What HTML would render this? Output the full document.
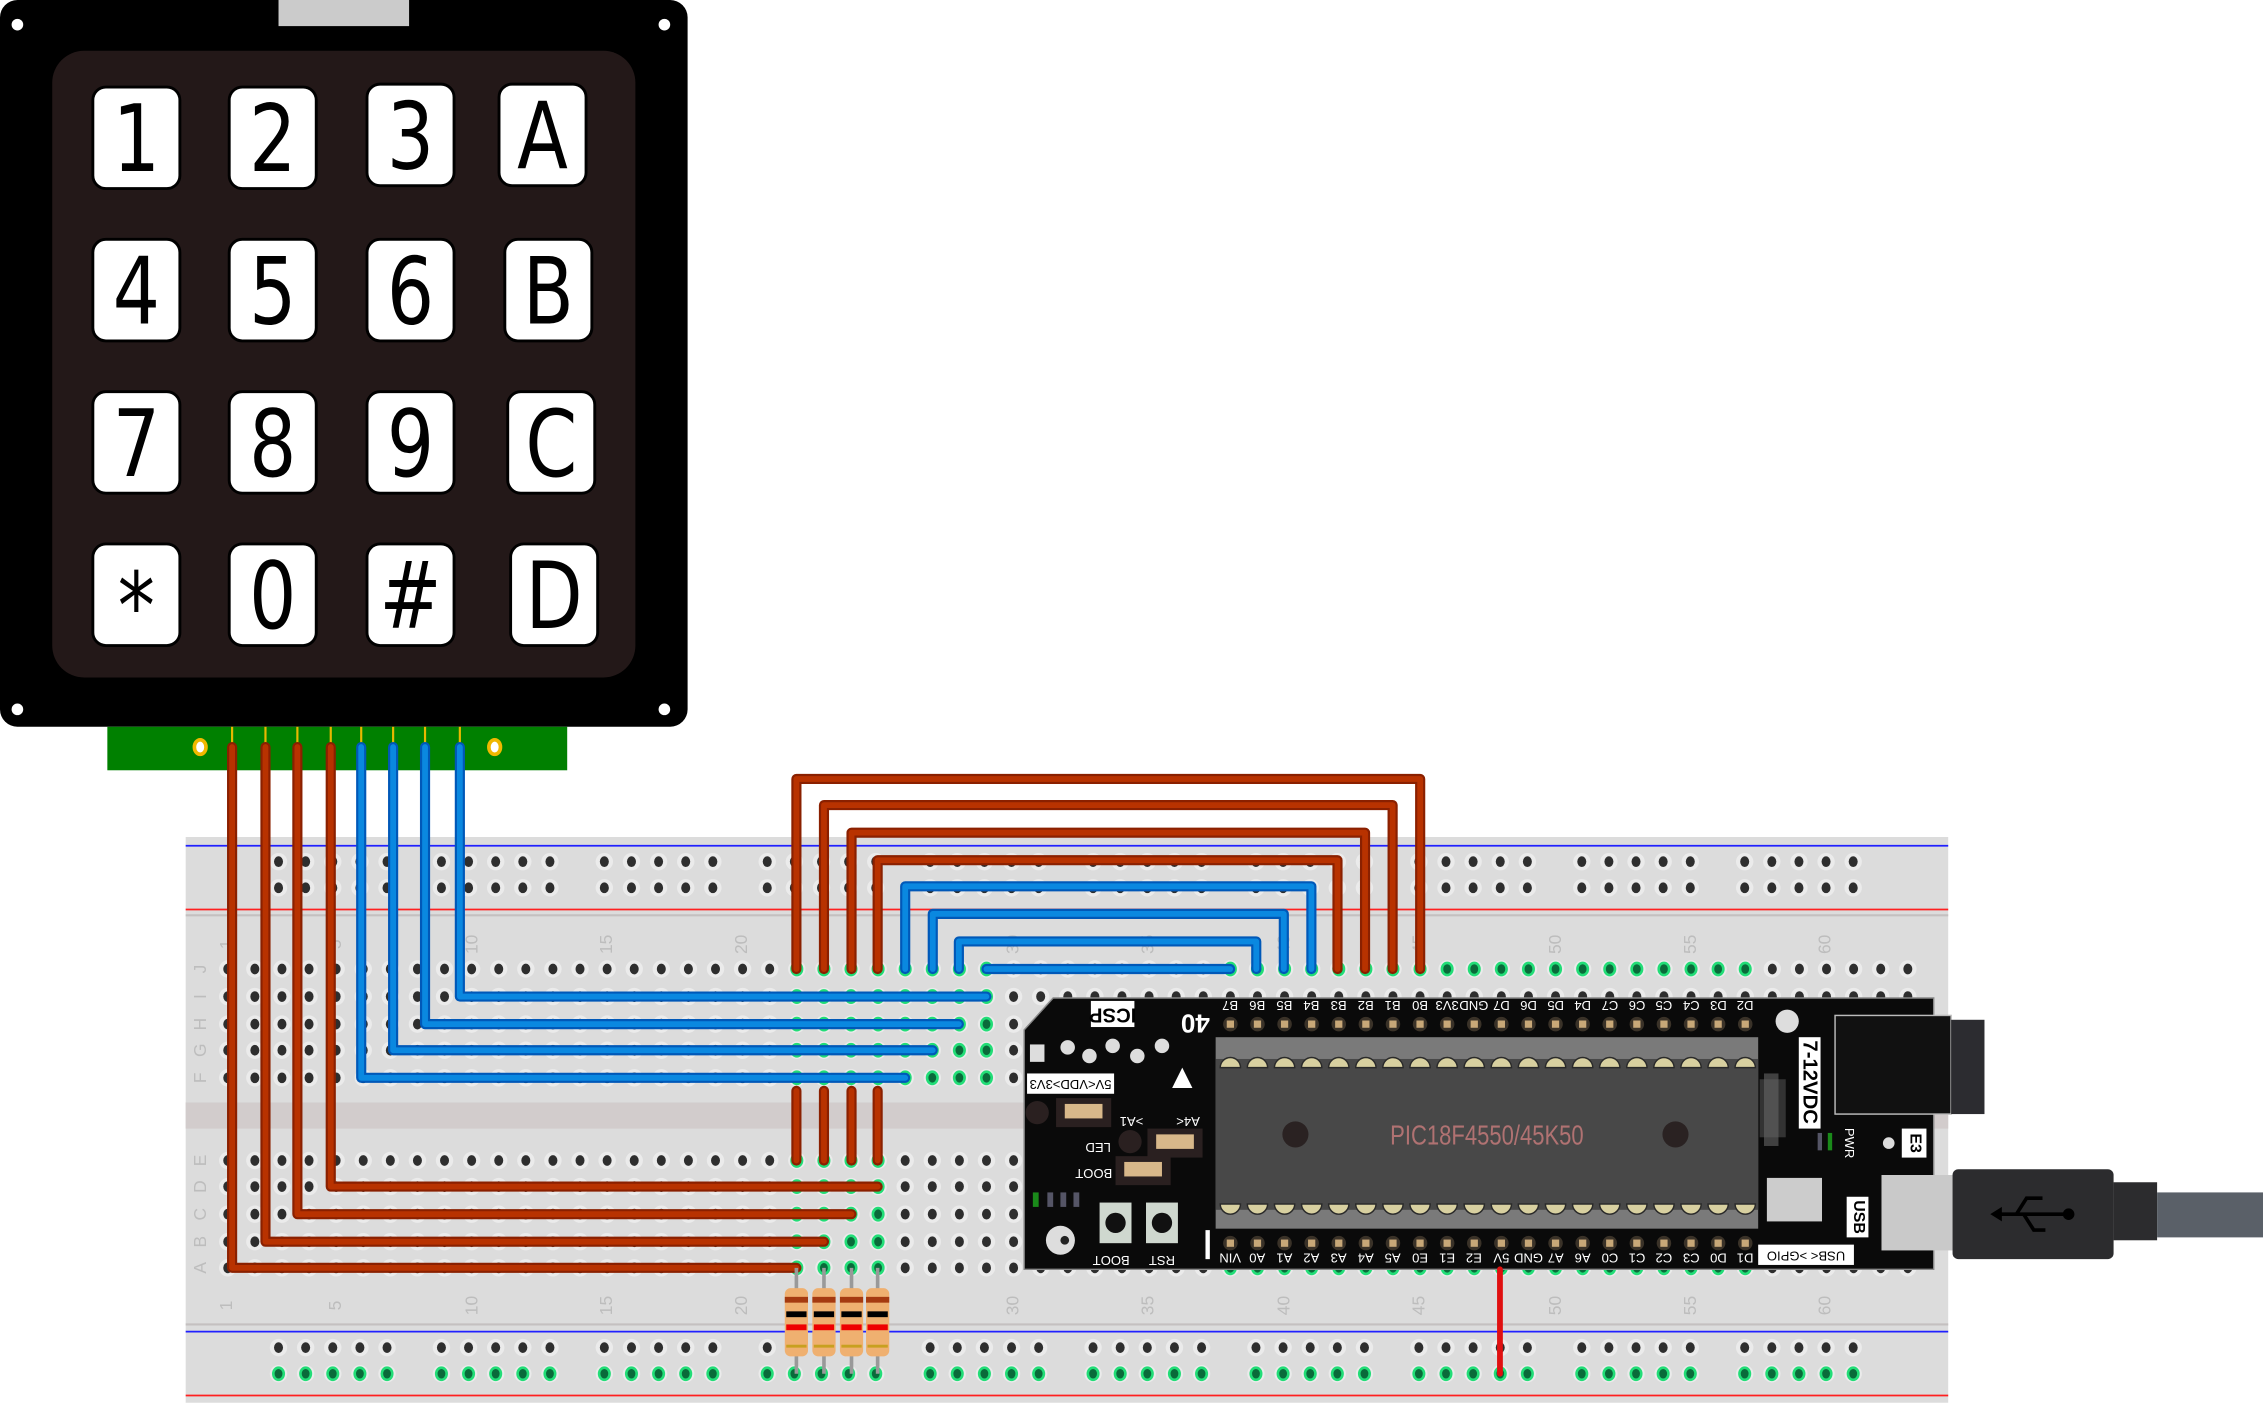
<!DOCTYPE html>
<html><head><meta charset="utf-8">
<style>
html,body{margin:0;padding:0;background:#fff;}
svg{display:block;}
.k{font-family:"DejaVu Sans","Liberation Sans",sans-serif;font-size:64px;fill:#000;text-anchor:middle;}
.pl{font-family:"Liberation Sans",sans-serif;font-size:9px;fill:#fff;text-anchor:middle;}
.nl{font-family:"Liberation Sans",sans-serif;font-size:12px;fill:#bdbdbd;text-anchor:middle;}
.wl{font-family:"Liberation Sans",sans-serif;font-weight:bold;fill:#fff;text-anchor:middle;}
</style></head>
<body>
<svg width="2263" height="1410" viewBox="0 0 1560 972" preserveAspectRatio="none" xmlns="http://www.w3.org/2000/svg">
<!-- Keypad -->
<rect x="0" y="0" width="474" height="501" rx="12" fill="#000"/>
<rect x="192" y="0" width="90" height="18" fill="#cbcbcb"/>
<circle cx="12" cy="17" r="4" fill="#fff"/><circle cx="458" cy="17" r="4" fill="#fff"/>
<circle cx="12" cy="489" r="4" fill="#fff"/><circle cx="458" cy="489" r="4" fill="#fff"/>
<rect x="36" y="35" width="402" height="432" rx="22" fill="#231818"/>
<g fill="#fff" stroke="#000" stroke-width="2">
<rect x="64" y="60" width="60" height="70" rx="9"/><rect x="158" y="60" width="60" height="70" rx="9"/><rect x="253" y="58" width="60" height="70" rx="9"/><rect x="344" y="58" width="60" height="70" rx="9"/>
<rect x="64" y="165" width="60" height="70" rx="9"/><rect x="158" y="165" width="60" height="70" rx="9"/><rect x="253" y="165" width="60" height="70" rx="9"/><rect x="348" y="165" width="60" height="70" rx="9"/>
<rect x="64" y="270" width="60" height="70" rx="9"/><rect x="158" y="270" width="60" height="70" rx="9"/><rect x="253" y="270" width="60" height="70" rx="9"/><rect x="350" y="270" width="60" height="70" rx="9"/>
<rect x="64" y="375" width="60" height="70" rx="9"/><rect x="158" y="375" width="60" height="70" rx="9"/><rect x="253" y="375" width="60" height="70" rx="9"/><rect x="352" y="375" width="60" height="70" rx="9"/>
</g>
<g class="k">
<text transform="translate(94,118) scale(0.8,1)">1</text>
<text transform="translate(188,118) scale(0.8,1)">2</text>
<text transform="translate(283,116) scale(0.8,1)">3</text>
<text transform="translate(374,116) scale(0.8,1)">A</text>
<text transform="translate(94,223) scale(0.8,1)">4</text>
<text transform="translate(188,223) scale(0.8,1)">5</text>
<text transform="translate(283,223) scale(0.8,1)">6</text>
<text transform="translate(378,223) scale(0.8,1)">B</text>
<text transform="translate(94,328) scale(0.8,1)">7</text>
<text transform="translate(188,328) scale(0.8,1)">8</text>
<text transform="translate(283,328) scale(0.8,1)">9</text>
<text transform="translate(380,328) scale(0.8,1)">C</text>
<text transform="translate(94,440) scale(0.8,1)">*</text>
<text transform="translate(188,433) scale(0.8,1)">0</text>
<text transform="translate(283,433) scale(0.8,1)">#</text>
<text transform="translate(382,433) scale(0.8,1)">D</text>
</g>
<!-- connector pcb -->
<rect x="74" y="501" width="317" height="30" fill="#008000"/>
<g stroke="#e8b800" stroke-width="1.5">
<line x1="160" y1="501" x2="160" y2="512"/><line x1="183" y1="501" x2="183" y2="512"/><line x1="205" y1="501" x2="205" y2="512"/><line x1="228" y1="501" x2="228" y2="512"/>
<line x1="249" y1="501" x2="249" y2="512"/><line x1="271" y1="501" x2="271" y2="512"/><line x1="293" y1="501" x2="293" y2="512"/><line x1="317" y1="501" x2="317" y2="512"/>
</g>
<ellipse cx="138" cy="515" rx="4" ry="5" fill="#fff" stroke="#f0b800" stroke-width="2.5"/>
<ellipse cx="341" cy="515" rx="4" ry="5" fill="#fff" stroke="#f0b800" stroke-width="2.5"/>

<!-- breadboard -->
<rect x="128" y="577" width="1215" height="390" fill="#dcdcdc"/>
<line x1="128" y1="583" x2="1343" y2="583" stroke="#2020ff" stroke-width="1.2"/>
<line x1="128" y1="627" x2="1343" y2="627" stroke="#ff2020" stroke-width="1.2"/>
<line x1="128" y1="631" x2="1343" y2="631" stroke="#c4c0c0" stroke-width="1.5"/>
<rect x="128" y="760" width="1215" height="18" fill="#d2cccc"/>
<line x1="128" y1="913" x2="1343" y2="913" stroke="#c4c0c0" stroke-width="1.5"/>
<line x1="128" y1="918" x2="1343" y2="918" stroke="#2020ff" stroke-width="1.2"/>
<line x1="128" y1="962" x2="1343" y2="962" stroke="#ff2020" stroke-width="1.2"/>
<g id="holes"></g>
<g class="nl">
<text transform="translate(160,651) rotate(-90)">1</text>
<text transform="translate(235,651) rotate(-90)">5</text>
<text transform="translate(329,651) rotate(-90)">10</text>
<text transform="translate(422,651) rotate(-90)">15</text>
<text transform="translate(515,651) rotate(-90)">20</text>
<text transform="translate(702,651) rotate(-90)">30</text>
<text transform="translate(795,651) rotate(-90)">35</text>
<text transform="translate(889,651) rotate(-90)">40</text>
<text transform="translate(982,651) rotate(-90)">45</text>
<text transform="translate(1076,651) rotate(-90)">50</text>
<text transform="translate(1169,651) rotate(-90)">55</text>
<text transform="translate(1262,651) rotate(-90)">60</text>
<text transform="translate(160,900) rotate(-90)">1</text>
<text transform="translate(235,900) rotate(-90)">5</text>
<text transform="translate(329,900) rotate(-90)">10</text>
<text transform="translate(422,900) rotate(-90)">15</text>
<text transform="translate(515,900) rotate(-90)">20</text>
<text transform="translate(702,900) rotate(-90)">30</text>
<text transform="translate(795,900) rotate(-90)">35</text>
<text transform="translate(889,900) rotate(-90)">40</text>
<text transform="translate(982,900) rotate(-90)">45</text>
<text transform="translate(1076,900) rotate(-90)">50</text>
<text transform="translate(1169,900) rotate(-90)">55</text>
<text transform="translate(1262,900) rotate(-90)">60</text>
<text transform="translate(142,668) rotate(-90)">J</text>
<text transform="translate(142,687) rotate(-90)">I</text>
<text transform="translate(142,706) rotate(-90)">H</text>
<text transform="translate(142,724) rotate(-90)">G</text>
<text transform="translate(142,743) rotate(-90)">F</text>
<text transform="translate(142,800) rotate(-90)">E</text>
<text transform="translate(142,818) rotate(-90)">D</text>
<text transform="translate(142,837) rotate(-90)">C</text>
<text transform="translate(142,856) rotate(-90)">B</text>
<text transform="translate(142,874) rotate(-90)">A</text>
</g>

<!-- dev board -->
<polygon points="726,688 1333,688 1333,875 706,875 706,710" fill="#0a0a0a" stroke="#888" stroke-width="1"/>
<rect x="752" y="690" width="30" height="18" fill="#fff"/>
<text class="wl" font-size="14" style="fill:#000" transform="translate(767,699) rotate(180)" dominant-baseline="middle">ICSP</text>
<text class="wl" font-size="18" transform="translate(824,704) rotate(180)" dominant-baseline="middle">40</text>
<rect x="710" y="720" width="10" height="12" fill="#ddd"/>
<circle cx="736" cy="722" r="5" fill="#ddd"/><circle cx="751" cy="728" r="5" fill="#ddd"/><circle cx="767" cy="721" r="5" fill="#ddd"/><circle cx="784" cy="728" r="5" fill="#ddd"/><circle cx="801" cy="721" r="5" fill="#ddd"/>
<polygon points="815,736 822,750 808,750" fill="#fff"/>
<rect x="708" y="740" width="60" height="14" fill="#fff"/>
<text class="pl" font-size="10" style="fill:#000" transform="translate(738,747) rotate(180)" dominant-baseline="middle">5V&lt;VDD&gt;3V3</text>
<rect x="728" y="757" width="38" height="20" fill="#2a2020"/><rect x="734" y="761" width="26" height="10" fill="#d8b88a"/>
<circle cx="715" cy="767" r="8" fill="#2a2020"/>
<text class="pl" transform="translate(780,770) rotate(180)">&gt;A1</text>
<text class="pl" transform="translate(819,770) rotate(180)">A4&lt;</text>
<text class="pl" font-size="11" transform="translate(757,788) rotate(180)">LED</text>
<circle cx="779" cy="787" r="8" fill="#2a2020"/>
<rect x="791" y="778" width="38" height="20" fill="#2a2020"/><rect x="797" y="782" width="26" height="10" fill="#d8b88a"/>
<text class="pl" font-size="11" transform="translate(754,806) rotate(180)">BOOT</text>
<rect x="769" y="797" width="38" height="20" fill="#2a2020"/><rect x="775" y="801" width="26" height="10" fill="#d8b88a"/>
<rect x="712" y="822" width="4" height="10" fill="#1a8a1a"/><rect x="722" y="822" width="4" height="10" fill="#556"/><rect x="731" y="822" width="4" height="10" fill="#556"/><rect x="740" y="822" width="4" height="10" fill="#556"/>
<circle cx="731" cy="855" r="10" fill="#ddd"/><circle cx="734" cy="855" r="3" fill="#222"/>
<rect x="758" y="829" width="22" height="28" fill="#cfd8cf"/><circle cx="769" cy="843" r="7" fill="#111"/>
<rect x="790" y="829" width="22" height="28" fill="#cfd8cf"/><circle cx="801" cy="843" r="7" fill="#111"/>
<text class="pl" font-size="11" transform="translate(766,866) rotate(180)">BOOT</text>
<text class="pl" font-size="11" transform="translate(801,866) rotate(180)">RST</text>
<rect x="831" y="848" width="3" height="20" fill="#fff"/>
<!-- chip -->
<rect x="838" y="715" width="374" height="132" fill="#7a7a7a"/>
<rect x="838" y="730" width="374" height="104" fill="#484848"/>
<circle cx="893" cy="782" r="9" fill="#2a2222"/><circle cx="1155" cy="782" r="9" fill="#2a2222"/>
<text x="1025" y="789" font-family="Liberation Sans Narrow, Liberation Sans, sans-serif" font-size="19" fill="#b07272" text-anchor="middle" transform="translate(1025,0) scale(0.8,1) translate(-1025,0)">PIC18F4550/45K50</text>
<g id="pins"></g>
<!-- right side parts -->
<circle cx="1232" cy="704" r="8" fill="#ddd"/>
<rect x="1240" y="715" width="15" height="63" fill="#fff"/>
<text class="wl" font-size="14" style="fill:#000" transform="translate(1247,746) rotate(90)" dominant-baseline="middle">7-12VDC</text>
<rect x="1213" y="744" width="18" height="40" fill="#333"/><rect x="1216" y="740" width="10" height="50" fill="#666" opacity="0.6"/>
<rect x="1265" y="700" width="80" height="68" fill="#111" stroke="#bbb" stroke-width="1"/>
<rect x="1345" y="703" width="23" height="65" fill="#2c2c30"/>
<rect x="1311" y="778" width="17" height="20" fill="#fff"/>
<text class="wl" font-size="11" style="fill:#000" transform="translate(1320,788) rotate(90)" dominant-baseline="middle">E3</text>
<circle cx="1302" cy="788" r="4" fill="#ddd"/>
<rect x="1253" y="781" width="3" height="12" fill="#556"/><rect x="1260" y="781" width="3" height="12" fill="#1a8a1a"/>
<text class="pl" font-size="9" transform="translate(1272,788) rotate(90)">PWR</text>
<rect x="1218" y="812" width="38" height="30" fill="#ccc"/>
<rect x="1273" y="825" width="15" height="28" fill="#fff"/>
<text class="wl" font-size="11" style="fill:#000" transform="translate(1281,839) rotate(90)" dominant-baseline="middle">USB</text>
<rect x="1212" y="858" width="66" height="14" fill="#fff"/>
<text class="pl" font-size="10" style="fill:#000" transform="translate(1245,865) rotate(180)" dominant-baseline="middle">USB&lt; &gt;GPIO</text>
<rect x="1297" y="810" width="50" height="52" fill="#c9c9c9"/>
<rect x="1346" y="806" width="111" height="62" rx="4" fill="#2c2c2e"/>
<rect x="1457" y="815" width="30" height="40" fill="#2c2c2e"/>
<rect x="1487" y="822" width="73" height="31" fill="#5a6068"/>
<g stroke="#000" stroke-width="2.5" fill="none"><line x1="1375" y1="837" x2="1425" y2="837"/><path d="M1390 837 L1397 826 L1408 826"/><path d="M1395 837 L1402 848 L1410 848"/></g>
<circle cx="1426" cy="837" r="4" fill="#000"/><polygon points="1372,837 1380,832 1380,842" fill="#000"/>

<!-- wires -->
<g fill="none" stroke-linejoin="round" stroke-linecap="round">
<g stroke="#8a2000" stroke-width="7">
<path d="M160 515 V874 H549"/><path d="M183 515 V856 H568"/><path d="M205 515 V837 H587"/><path d="M228 515 V818 H605"/>
<path d="M549 668 V537 H979 V668"/><path d="M568 668 V555 H960 V668"/><path d="M587 668 V574 H941 V668"/><path d="M605 668 V593 H922 V668"/>
<path d="M549 752 V800"/><path d="M568 752 V800"/><path d="M587 752 V800"/><path d="M605 752 V800"/>
</g>
<g stroke="#b83200" stroke-width="4">
<path d="M160 515 V874 H549"/><path d="M183 515 V856 H568"/><path d="M205 515 V837 H587"/><path d="M228 515 V818 H605"/>
<path d="M549 668 V537 H979 V668"/><path d="M568 668 V555 H960 V668"/><path d="M587 668 V574 H941 V668"/><path d="M605 668 V593 H922 V668"/>
<path d="M549 752 V800"/><path d="M568 752 V800"/><path d="M587 752 V800"/><path d="M605 752 V800"/>
</g>
<g stroke="#0058b8" stroke-width="7">
<path d="M249 515 V743 H624"/><path d="M271 515 V724 H643"/><path d="M293 515 V706 H661"/><path d="M317 515 V687 H680"/>
<path d="M624 668 V611 H904 V668"/><path d="M643 668 V630 H885 V668"/><path d="M661 668 V649 H866 V668"/><path d="M680 668 H848"/>
</g>
<g stroke="#0a88e0" stroke-width="4">
<path d="M249 515 V743 H624"/><path d="M271 515 V724 H643"/><path d="M293 515 V706 H661"/><path d="M317 515 V687 H680"/>
<path d="M624 668 V611 H904 V668"/><path d="M643 668 V630 H885 V668"/><path d="M661 668 V649 H866 V668"/><path d="M680 668 H848"/>
</g>
<path d="M1034 875 V947" stroke="#e01010" stroke-width="4"/>
</g>
<g id="res"></g>

<script>
var NS="http://www.w3.org/2000/svg";
function el(p,t,a){var e=document.createElementNS(NS,t);for(var k in a)e.setAttribute(k,a[k]);p.appendChild(e);return e;}
var H=document.getElementById('holes');
function cx(c){return 157+(c-1)*18.68;}
function hole(x,y,g){
 el(H,'circle',{cx:x,cy:y,r:6,fill:'#ebebeb'});
 if(g){el(H,'ellipse',{cx:x,cy:y,rx:3.6,ry:4.2,fill:'#0a6a3a',stroke:'#22dd77','stroke-width':1.8});}
 else el(H,'ellipse',{cx:x,cy:y,rx:3.1,ry:3.7,fill:'#2e2e2e'});
}
for(var k=0;k<10;k++)for(var i=0;i<5;i++){var x=192+k*112.3+i*18.7;
 hole(x,594,false);hole(x,612,false);hole(x,929,false);hole(x,947,true);}
var rowsT=[668,687,706,724,743],rowsB=[800,818,837,856,874];
for(var c=1;c<=63;c++){var x=cx(c);
 rowsT.forEach(function(y,r){var g=(c>=22&&c<=29)||(r==0&&c>=38&&c<=57);hole(x,y,g);});
 rowsB.forEach(function(y,r){var g=(c>=22&&c<=25)||(r==4&&c>=38&&c<=57);hole(x,y,g);});
}
var R=document.getElementById('res');
[549,568,587,605].forEach(function(x){
 el(R,'line',{x1:x,y1:874,x2:x,y2:947,stroke:'#999','stroke-width':2.5});
 el(R,'rect',{x:x-8,y:888,width:16,height:47,rx:4,fill:'#efb070'});
 el(R,'rect',{x:x-8,y:894,width:16,height:4,fill:'#a53a10'});
 el(R,'rect',{x:x-7,y:904,width:14,height:4,fill:'#000'});
 el(R,'rect',{x:x-7,y:913,width:14,height:4,fill:'#e00'});
 el(R,'rect',{x:x-7,y:927,width:14,height:2,fill:'#c8a020'});
});
var P=document.getElementById('pins');
for(var i=0;i<20;i++){var x=cx(38+i);
 el(P,'circle',{cx:x,cy:706,r:5,fill:'#3a3228'});el(P,'rect',{x:x-2.5,y:703.5,width:5,height:5,fill:'#c8a878'});
 el(P,'circle',{cx:x,cy:857,r:5,fill:'#3a3228'});el(P,'rect',{x:x-2.5,y:854.5,width:5,height:5,fill:'#c8a878'});
 el(P,'path',{d:'M'+(x-7)+' 736 A7 7 0 0 1 '+(x+7)+' 736 Z',fill:'#d8d0a0',stroke:'#2a2a2a','stroke-width':1});
 el(P,'path',{d:'M'+(x-7)+' 830 A7 7 0 0 0 '+(x+7)+' 830 Z',fill:'#d8d0a0',stroke:'#2a2a2a','stroke-width':1});
}
</script>
<g class="pl">
<text transform="translate(848,690) rotate(180)">B7</text><text transform="translate(866.7,690) rotate(180)">B6</text><text transform="translate(885.4,690) rotate(180)">B5</text><text transform="translate(904,690) rotate(180)">B4</text><text transform="translate(922.8,690) rotate(180)">B3</text><text transform="translate(941.5,690) rotate(180)">B2</text><text transform="translate(960,690) rotate(180)">B1</text><text transform="translate(978.9,690) rotate(180)">B0</text><text transform="translate(997.6,690) rotate(180)">3V3</text><text transform="translate(1016,690) rotate(180)">GND</text><text transform="translate(1035,690) rotate(180)">D7</text><text transform="translate(1053.7,690) rotate(180)">D6</text><text transform="translate(1072.4,690) rotate(180)">D5</text><text transform="translate(1091,690) rotate(180)">D4</text><text transform="translate(1109.8,690) rotate(180)">C7</text><text transform="translate(1128.5,690) rotate(180)">C6</text><text transform="translate(1147,690) rotate(180)">C5</text><text transform="translate(1165.9,690) rotate(180)">C4</text><text transform="translate(1184.6,690) rotate(180)">D3</text><text transform="translate(1203,690) rotate(180)">D2</text>
<text transform="translate(848,864) rotate(180)">VIN</text><text transform="translate(866.7,864) rotate(180)">A0</text><text transform="translate(885.4,864) rotate(180)">A1</text><text transform="translate(904,864) rotate(180)">A2</text><text transform="translate(922.8,864) rotate(180)">A3</text><text transform="translate(941.5,864) rotate(180)">A4</text><text transform="translate(960,864) rotate(180)">A5</text><text transform="translate(978.9,864) rotate(180)">E0</text><text transform="translate(997.6,864) rotate(180)">E1</text><text transform="translate(1016,864) rotate(180)">E2</text><text transform="translate(1035,864) rotate(180)">5V</text><text transform="translate(1053.7,864) rotate(180)">GND</text><text transform="translate(1072.4,864) rotate(180)">A7</text><text transform="translate(1091,864) rotate(180)">A6</text><text transform="translate(1109.8,864) rotate(180)">C0</text><text transform="translate(1128.5,864) rotate(180)">C1</text><text transform="translate(1147,864) rotate(180)">C2</text><text transform="translate(1165.9,864) rotate(180)">C3</text><text transform="translate(1184.6,864) rotate(180)">D0</text><text transform="translate(1203,864) rotate(180)">D1</text>
</g>
</svg>
</body></html>
